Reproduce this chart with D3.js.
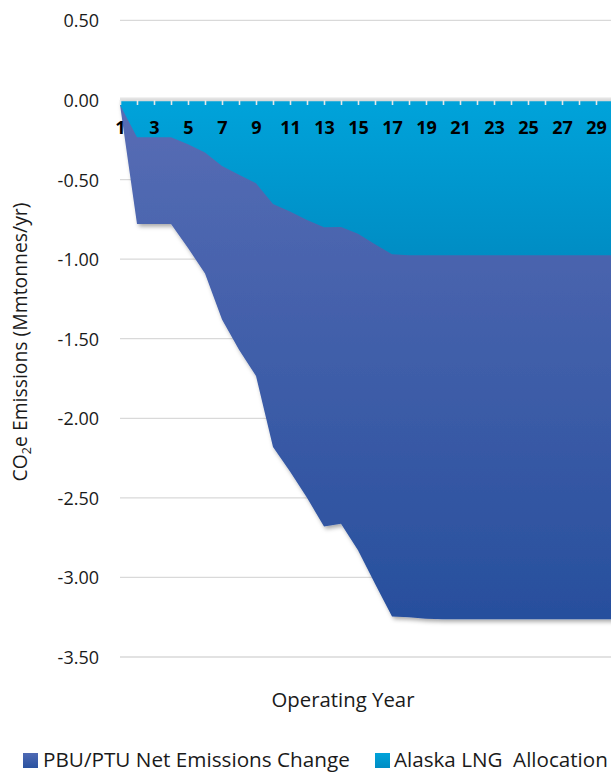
<!DOCTYPE html>
<html>
<head>
<meta charset="utf-8">
<script src="https://cdn.jsdelivr.net/npm/d3@7"></script>
<style>
  html, body { margin: 0; padding: 0; background: #fff; }
  svg { display: block; font-family: "Open Sans", "Liberation Sans", sans-serif; }
  text { white-space: pre; }
</style>
</head>
<body>
<svg id="chart" width="611" height="772"></svg>
<script>
// ---- data ----
const years = [1,2,3,4,5,6,7,8,9,10,11,12,13,14,15,16,17,18,19,20,21,22,23,24,25,26,27,28,29,30];
const netEmissionsChange = [-0.03,-0.78,-0.78,-0.78,-0.93,-1.09,-1.38,-1.57,-1.735,-2.18,-2.335,-2.50,-2.68,-2.663,-2.83,-3.04,-3.245,-3.25,-3.26,-3.263,-3.263,-3.263,-3.263,-3.263,-3.263,-3.263,-3.263,-3.263,-3.263,-3.263];
const alaskaLngAllocation = [-0.03,-0.234,-0.234,-0.234,-0.278,-0.33,-0.415,-0.47,-0.523,-0.653,-0.70,-0.754,-0.80,-0.798,-0.84,-0.906,-0.97,-0.975,-0.975,-0.975,-0.975,-0.975,-0.975,-0.975,-0.975,-0.975,-0.975,-0.975,-0.975,-0.975];
const yTicks = [0.5,0,-0.5,-1,-1.5,-2,-2.5,-3,-3.5];
const xLabelYears = [1,3,5,7,9,11,13,15,17,19,21,23,25,27,29];
const seriesNames = ["PBU/PTU Net Emissions Change", "Alaska LNG  Allocation"];
const yTitle = ["CO", "2", "e Emissions (Mmtonnes/yr)"];
const xTitle = "Operating Year";

// ---- layout ----
const W = 611, H = 772;
const svg = d3.select("#chart");
const x = d3.scaleLinear().domain([1, 30]).range([120, 613]);
const y = d3.scaleLinear().domain([0.5, -3.5]).range([20.4, 657]);
const plotRight = 611;

const defs = svg.append("defs");
const gDark = defs.append("linearGradient").attr("id","gDark")
  .attr("gradientUnits","userSpaceOnUse").attr("x1",0).attr("x2",0)
  .attr("y1", y(0)).attr("y2", y(-3.27));
gDark.append("stop").attr("offset","0").attr("stop-color","#586db5");
gDark.append("stop").attr("offset","1").attr("stop-color","#274f9d");
const gLight = defs.append("linearGradient").attr("id","gLight")
  .attr("gradientUnits","userSpaceOnUse").attr("x1",0).attr("x2",0)
  .attr("y1", y(0)).attr("y2", y(-0.98));
gLight.append("stop").attr("offset","0").attr("stop-color","#00a3da");
gLight.append("stop").attr("offset","1").attr("stop-color","#008dc4");
const lgDark = defs.append("linearGradient").attr("id","lgDark").attr("x1",0).attr("x2",0).attr("y1",0).attr("y2",1);
lgDark.append("stop").attr("offset","0").attr("stop-color","#4f6ab4");
lgDark.append("stop").attr("offset","1").attr("stop-color","#2a52a0");
const lgLight = defs.append("linearGradient").attr("id","lgLight").attr("x1",0).attr("x2",0).attr("y1",0).attr("y2",1);
lgLight.append("stop").attr("offset","0").attr("stop-color","#00a3da");
lgLight.append("stop").attr("offset","1").attr("stop-color","#008cc3");
const shadow = defs.append("filter").attr("id","shadow").attr("x","-10%").attr("y","-10%").attr("width","130%").attr("height","130%");
shadow.append("feDropShadow").attr("dx",2).attr("dy",2.5).attr("stdDeviation",2)
  .attr("flood-color","#000").attr("flood-opacity",0.35);
const clip = defs.append("clipPath").attr("id","clip");
clip.append("rect").attr("x",0).attr("y",0).attr("width",W).attr("height",H);

// gridlines
svg.append("g").selectAll("line").data(yTicks).join("line")
  .attr("x1", 120).attr("x2", plotRight)
  .attr("y1", d => y(d)).attr("y2", d => y(d))
  .attr("stroke", "#d9d9d9").attr("stroke-width", 1.3);

// y axis labels
const yAxis = d3.axisLeft(y).tickValues(yTicks).tickSize(0).tickPadding(0)
  .tickFormat(d => d.toFixed(2));
const yg = svg.append("g").attr("transform", "translate(99,0)").call(yAxis);
yg.select(".domain").remove();
yg.selectAll("text").attr("font-size", 18).attr("fill", "#1a1a1a")
  .attr("font-family", "'Open Sans', sans-serif").attr("dy", "0.36em");

// areas
const rows = years.map((yr, i) => ({ yr, net: netEmissionsChange[i], lng: alaskaLngAllocation[i] }));
const plot = svg.append("g").attr("clip-path", "url(#clip)");
plot.append("path").datum(rows)
  .attr("d", d3.area().x(d => x(d.yr)).y0(y(0)).y1(d => y(d.net)))
  .attr("fill", "url(#gDark)").attr("filter", "url(#shadow)");
plot.append("path").datum(rows)
  .attr("d", d3.area().x(d => x(d.yr)).y0(y(0)).y1(d => y(d.lng)))
  .attr("fill", "url(#gLight)");

// x axis line (with soft shade above)
svg.append("line").attr("x1", 120).attr("x2", plotRight).attr("y1", y(0) - 1.5).attr("y2", y(0) - 1.5)
  .attr("stroke", "#e4e4e4").attr("stroke-width", 2);
const xAxis = d3.axisBottom(x).tickValues(years).tickSizeInner(5).tickSizeOuter(0).tickPadding(16)
  .tickFormat(d => xLabelYears.includes(d) ? String(d) : "");
const xg = svg.append("g").attr("transform", `translate(0,${y(0)})`).call(xAxis);
xg.select(".domain").attr("stroke", "#d9d9d9").attr("stroke-width", 1.3);
xg.selectAll(".tick line").attr("stroke", "#e8e8e8").attr("stroke-width", 1.6);
xg.selectAll(".tick text").attr("font-size", 18).attr("font-weight", "bold")
  .attr("fill", "#000").attr("font-family", "'Open Sans', sans-serif");

// fit helper
function fit(sel, target) {
  const w = sel.node().getComputedTextLength();
  const fs = parseFloat(sel.attr("font-size"));
  sel.attr("font-size", fs * target / w);
}

// y title
const yt = svg.append("text").attr("transform", "translate(27,342) rotate(-90)")
  .attr("text-anchor", "middle").attr("font-size", 18).attr("fill", "#1a1a1a");
yt.append("tspan").text(yTitle[0]);
yt.append("tspan").text(yTitle[1]).attr("font-size", "0.65em").attr("dy", "0.3em");
yt.append("tspan").text(yTitle[2]).attr("dy", "-0.2em");
fit(yt, 279);

// x title
const xt = svg.append("text").attr("x", 343).attr("y", 707).attr("text-anchor", "middle")
  .attr("font-size", 20).attr("fill", "#1a1a1a").text(xTitle);
fit(xt, 143);

// legend
const legend = [
  { name: seriesNames[0], fill: "url(#lgDark)", sx: 23, tx: 43, tw: 307 },
  { name: seriesNames[1], fill: "url(#lgLight)", sx: 375, tx: 394, tw: 214 }
];
legend.forEach(l => {
  svg.append("rect").attr("x", l.sx).attr("y", 753).attr("width", 15).attr("height", 15).attr("fill", l.fill);
  const t = svg.append("text").attr("x", l.tx).attr("y", 767).attr("font-size", 20)
    .attr("fill", "#1a1a1a").text(l.name);
  fit(t, l.tw);
});
</script>
</body>
</html>
